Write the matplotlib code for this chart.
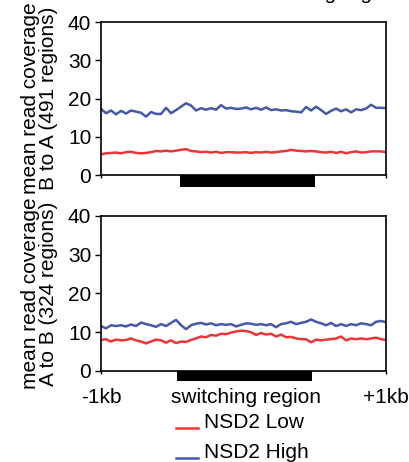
import matplotlib
matplotlib.use("Agg")
import matplotlib.pyplot as plt
from matplotlib.lines import Line2D
from matplotlib.patches import Rectangle
import numpy as np

plt.rcParams['font.family'] = ['Liberation Sans', 'DejaVu Sans']
plt.rcParams['font.size'] = 15

# bins across -1kb .. switching region .. +1kb
tick_labels = ['-1kb', 'switching region', '+1kb']
legend_labels = ['NSD2 Low', 'NSD2 High']

# B to A (491 regions)
b2a_low = [5.4, 5.7, 5.8, 5.9, 5.7, 6.0, 6.1, 5.8, 5.7, 5.8, 6.0, 6.3, 6.2, 6.4, 6.2,
           6.4, 6.6, 6.8, 6.3, 6.2, 6.0, 6.1, 5.9, 6.1, 5.8, 6.0, 6.0, 5.9, 5.9, 6.0,
           5.8, 6.0, 5.9, 6.1, 5.9, 6.0, 6.2, 6.3, 6.6, 6.4, 6.3, 6.2, 6.3, 6.2, 6.0,
           5.9, 6.1, 5.8, 6.1, 5.7, 6.0, 6.2, 5.9, 6.0, 6.2, 6.2, 6.2, 6.0]
b2a_high = [17.3, 16.2, 16.9, 15.9, 16.8, 16.1, 16.9, 16.6, 16.3, 15.3, 16.5, 16.0, 16.0,
            17.6, 16.2, 17.0, 17.9, 18.8, 18.2, 16.9, 17.5, 17.1, 17.5, 17.1, 18.3, 17.4,
            17.6, 17.3, 17.4, 17.7, 17.2, 17.6, 17.1, 17.7, 17.0, 17.2, 16.9, 17.0, 16.7,
            16.6, 16.4, 17.8, 16.9, 17.9, 17.0, 16.0, 16.8, 17.4, 16.7, 17.2, 16.4, 17.2,
            17.0, 17.4, 18.4, 17.6, 17.6, 17.5]

# A to B (324 regions)
a2b_low = [8.0, 8.2, 7.6, 8.1, 7.9, 8.0, 8.4, 7.9, 7.6, 7.1, 7.6, 8.1, 7.9, 7.3, 7.9,
           7.2, 7.6, 7.5, 8.0, 8.4, 8.9, 8.7, 9.3, 9.1, 9.6, 9.5, 9.9, 10.2, 10.4, 10.3,
           10.0, 9.3, 9.8, 9.4, 9.6, 8.9, 9.4, 8.7, 8.8, 8.4, 8.2, 8.2, 7.4, 8.1, 7.9,
           8.1, 8.2, 8.4, 8.9, 7.9, 8.4, 8.2, 8.4, 8.2, 8.4, 8.6, 8.2, 8.0]
a2b_high = [11.6, 11.0, 11.8, 11.6, 11.8, 11.5, 12.0, 11.6, 12.5, 12.1, 11.8, 11.4, 12.1,
            11.6, 12.4, 13.2, 11.8, 10.8, 11.8, 12.2, 12.4, 12.0, 12.3, 11.8, 12.1, 11.9,
            12.1, 11.5, 11.9, 12.3, 12.2, 11.9, 12.1, 11.8, 12.1, 11.3, 12.1, 12.3, 12.7,
            12.1, 12.4, 12.7, 13.3, 12.7, 12.3, 11.8, 12.4, 11.6, 12.1, 11.6, 12.1, 11.8,
            12.3, 12.1, 11.8, 12.7, 12.9, 12.6]

red = '#EC3539'
blue = '#4659A9'

fig = plt.figure(figsize=(4.09, 4.62), dpi=100)
ax1 = fig.add_axes([0.247, 0.621, 0.697, 0.331])
ax2 = fig.add_axes([0.247, 0.197, 0.697, 0.3355])

panels = [
    (ax1, b2a_low, b2a_high, 'mean read coverage\nB to A (491 regions)', (15.8, 42.8), 0.075),
    (ax2, a2b_low, a2b_high, 'mean read coverage\nA to B (324 regions)', (15.2, 42.2), 0.065),
]

for ax, low, high, ylab, bar, barh in panels:
    x = np.arange(len(low))
    ax.plot(x, low, color=red, lw=1.8)
    ax.plot(x, high, color=blue, lw=1.8)
    ax.set_xlim(0, len(low) - 1)
    ax.set_ylim(0, 40)
    ax.set_yticks([0, 10, 20, 30, 40])
    ax.set_ylabel(ylab, linespacing=0.95, labelpad=7)
    ax.tick_params(axis='y', direction='out', length=4, width=1, pad=3)
    ax.tick_params(axis='x', direction='out', length=2.5, width=1)
    for s in ax.spines.values():
        s.set_linewidth(1.2)
    # switching region bar under the axis
    ax.add_patch(Rectangle((bar[0], -barh), bar[1] - bar[0], barh,
                           transform=ax.get_xaxis_transform(), color='black',
                           clip_on=False, lw=0))

ax1.set_xticks([0, len(b2a_low) - 1])
ax1.set_xticklabels([])
n = len(a2b_low)
ax2.set_xticks([0, 29, n - 1])
ax2.set_xticklabels(tick_labels)
ax2.tick_params(axis='x', pad=10)

# legend
for i, (lab, c) in enumerate(zip(legend_labels, [red, blue])):
    yb = 1 - (428 + i * 30) / 462
    fig.add_artist(Line2D([176 / 409, 198 / 409], [yb, yb], color=c, lw=1.8))
    fig.text(204 / 409, yb, lab, ha='left', va='baseline')

# clipped label from panel above
fig.text(0.795, 1.003, 'switching region', ha='center', va='baseline')

fig.savefig('out.png', dpi=100)
